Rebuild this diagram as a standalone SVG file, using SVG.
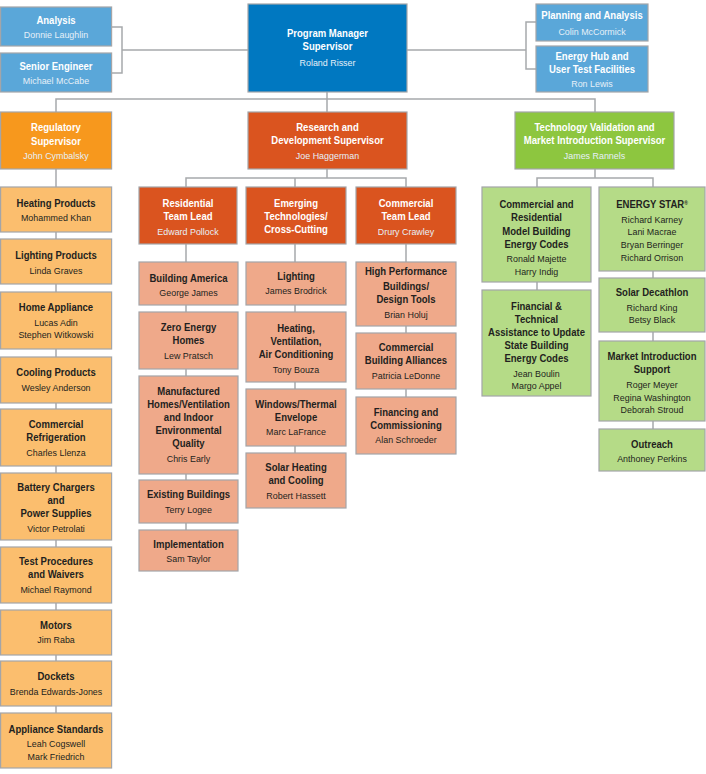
<svg xmlns="http://www.w3.org/2000/svg" width="706" height="774" viewBox="0 0 706 774">
<style>
.b{stroke:#a3a5a8;stroke-width:1.2}
.lb{fill:#5aa7d9}.db{fill:#0078c1}.or{fill:#f7981d}.po{fill:#fbbe6e}.ro{fill:#da541f}.sa{fill:#efa98a}.gr{fill:#8dc63f}.pg{fill:#b5db87}
text{font-family:"Liberation Sans Narrow","Liberation Sans",Arial,sans-serif;text-anchor:middle}
.h{font-weight:bold;font-size:10.6px}
.n{font-size:9.9px}
.w text{fill:#fff}.w .n{fill:#e6f0f8}
.k text{fill:#231f20}
.c{stroke:#a7a9ac;stroke-width:1.5;fill:none}
</style>
<rect width="706" height="774" fill="#fff"/>
<g id="connectors" class="c">
<path d="M112 27H122V73H112M122 50H248"/>
<path d="M536 22H526V69H536M407 50H526"/>
<path d="M327 92V112M56 112V99H595V112"/>
<path d="M56 169V713"/>
<path d="M327 169V178M186 187V178H406V187M295 178V187"/>
<path d="M186 244V530M295 244V453M406 244V397"/>
<path d="M595 169V178M537 187V178H653V187M537 282V290M653 271V429"/>
</g>
<g id="analysis" class="w"><rect class="b lb" x="0.6" y="7" width="111" height="39"/><text transform="matrix(.9 0 0 1 56 0)"><tspan class="h" x="0" y="24">Analysis</tspan><tspan class="n" x="0" y="38.5">Donnie Laughlin</tspan></text></g>
<g id="senior-engineer" class="w"><rect class="b lb" x="0.6" y="53" width="111" height="39"/><text transform="matrix(.9 0 0 1 56 0)"><tspan class="h" x="0" y="70">Senior Engineer</tspan><tspan class="n" x="0" y="84.5">Michael McCabe</tspan></text></g>
<g id="program-manager" class="w"><rect class="b db" x="248" y="4" width="159" height="88"/><text transform="matrix(.9 0 0 1 327.5 0)"><tspan class="h" x="0" y="37">Program Manager</tspan><tspan class="h" x="0" y="50">Supervisor</tspan><tspan class="n" x="0" y="66">Roland Risser</tspan></text></g>
<g id="planning" class="w"><rect class="b lb" x="536" y="4" width="112" height="37"/><text transform="matrix(.9 0 0 1 592 0)"><tspan class="h" x="0" y="19">Planning and Analysis</tspan><tspan class="n" x="0" y="35">Colin McCormick</tspan></text></g>
<g id="energy-hub" class="w"><rect class="b lb" x="536" y="46" width="112" height="46"/><text transform="matrix(.9 0 0 1 592 0)"><tspan class="h" x="0" y="60">Energy Hub and</tspan><tspan class="h" x="0" y="72.7">User Test Facilities</tspan><tspan class="n" x="0" y="87">Ron Lewis</tspan></text></g>
<g id="regulatory" class="w"><rect class="b or" x="0.6" y="112" width="111" height="57"/><text transform="matrix(.9 0 0 1 56 0)"><tspan class="h" x="0" y="131.3">Regulatory</tspan><tspan class="h" x="0" y="144.7">Supervisor</tspan><tspan class="n" x="0" y="159">John Cymbalsky</tspan></text></g>
<g id="research" class="w"><rect class="b ro" x="248" y="112" width="159" height="57"/><text transform="matrix(.9 0 0 1 327.5 0)"><tspan class="h" x="0" y="131">Research and</tspan><tspan class="h" x="0" y="144.5">Development Supervisor</tspan><tspan class="n" x="0" y="159.5">Joe Haggerman</tspan></text></g>
<g id="tech-validation" class="w"><rect class="b gr" x="515" y="112" width="159" height="57"/><text transform="matrix(.9 0 0 1 594.5 0)"><tspan class="h" x="0" y="131">Technology Validation and</tspan><tspan class="h" x="0" y="144.5">Market Introduction Supervisor</tspan><tspan class="n" x="0" y="159">James Rannels</tspan></text></g>

<g id="heating" class="k"><rect class="b po" x="0.6" y="187" width="111" height="45"/><text transform="matrix(.9 0 0 1 56 0)"><tspan class="h" x="0" y="207">Heating Products</tspan><tspan class="n" x="0" y="221.5">Mohammed Khan</tspan></text></g>
<g id="lighting-products" class="k"><rect class="b po" x="0.6" y="239" width="111" height="45"/><text transform="matrix(.9 0 0 1 56 0)"><tspan class="h" x="0" y="259.3">Lighting Products</tspan><tspan class="n" x="0" y="273.7">Linda Graves</tspan></text></g>
<g id="home-appliance" class="k"><rect class="b po" x="0.6" y="292" width="111" height="57"/><text transform="matrix(.9 0 0 1 56 0)"><tspan class="h" x="0" y="311">Home Appliance</tspan><tspan class="n" x="0" y="325.7">Lucas Adin</tspan><tspan class="n" x="0" y="338.3">Stephen Witkowski</tspan></text></g>
<g id="cooling" class="k"><rect class="b po" x="0.6" y="357" width="111" height="46"/><text transform="matrix(.9 0 0 1 56 0)"><tspan class="h" x="0" y="376.3">Cooling Products</tspan><tspan class="n" x="0" y="391">Wesley Anderson</tspan></text></g>
<g id="refrigeration" class="k"><rect class="b po" x="0.6" y="409" width="111" height="57"/><text transform="matrix(.9 0 0 1 56 0)"><tspan class="h" x="0" y="428">Commercial</tspan><tspan class="h" x="0" y="441.3">Refrigeration</tspan><tspan class="n" x="0" y="456">Charles Llenza</tspan></text></g>
<g id="battery" class="k"><rect class="b po" x="0.6" y="473" width="111" height="67"/><text transform="matrix(.9 0 0 1 56 0)"><tspan class="h" x="0" y="490.7">Battery Chargers</tspan><tspan class="h" x="0" y="503.7">and</tspan><tspan class="h" x="0" y="516.7">Power Supplies</tspan><tspan class="n" x="0" y="531.7">Victor Petrolati</tspan></text></g>
<g id="test-procedures" class="k"><rect class="b po" x="0.6" y="547" width="111" height="56"/><text transform="matrix(.9 0 0 1 56 0)"><tspan class="h" x="0" y="565">Test Procedures</tspan><tspan class="h" x="0" y="578">and Waivers</tspan><tspan class="n" x="0" y="592.7">Michael Raymond</tspan></text></g>
<g id="motors" class="k"><rect class="b po" x="0.6" y="610" width="111" height="45"/><text transform="matrix(.9 0 0 1 56 0)"><tspan class="h" x="0" y="628.7">Motors</tspan><tspan class="n" x="0" y="643.3">Jim Raba</tspan></text></g>
<g id="dockets" class="k"><rect class="b po" x="0.6" y="661" width="111" height="45"/><text transform="matrix(.9 0 0 1 56 0)"><tspan class="h" x="0" y="680.3">Dockets</tspan><tspan class="n" x="0" y="695">Brenda Edwards-Jones</tspan></text></g>
<g id="appliance-standards" class="k"><rect class="b po" x="0.6" y="713" width="111" height="55"/><text transform="matrix(.9 0 0 1 56 0)"><tspan class="h" x="0" y="732.7">Appliance Standards</tspan><tspan class="n" x="0" y="747.3">Leah Cogswell</tspan><tspan class="n" x="0" y="759.7">Mark Friedrich</tspan></text></g>

<g id="residential" class="w"><rect class="b ro" x="139" y="187" width="98" height="57"/><text transform="matrix(.9 0 0 1 188 0)"><tspan class="h" x="0" y="207">Residential</tspan><tspan class="h" x="0" y="219.7">Team Lead</tspan><tspan class="n" x="0" y="234.7">Edward Pollock</tspan></text></g>
<g id="building-america" class="k"><rect class="b sa" x="139" y="262" width="99" height="43"/><text transform="matrix(.9 0 0 1 188.5 0)"><tspan class="h" x="0" y="281.7">Building America</tspan><tspan class="n" x="0" y="296">George James</tspan></text></g>
<g id="zero-energy" class="k"><rect class="b sa" x="139" y="312" width="99" height="57"/><text transform="matrix(.9 0 0 1 188.5 0)"><tspan class="h" x="0" y="330.7">Zero Energy</tspan><tspan class="h" x="0" y="344">Homes</tspan><tspan class="n" x="0" y="358.7">Lew Pratsch</tspan></text></g>
<g id="manufactured" class="k"><rect class="b sa" x="139" y="376" width="99" height="98"/><text transform="matrix(.9 0 0 1 188.5 0)"><tspan class="h" x="0" y="395">Manufactured</tspan><tspan class="h" x="0" y="408.3">Homes/Ventilation</tspan><tspan class="h" x="0" y="421.3">and Indoor</tspan><tspan class="h" x="0" y="434.3">Environmental</tspan><tspan class="h" x="0" y="447.3">Quality</tspan><tspan class="n" x="0" y="462.3">Chris Early</tspan></text></g>
<g id="existing-buildings" class="k"><rect class="b sa" x="139" y="480" width="99" height="43"/><text transform="matrix(.9 0 0 1 188.5 0)"><tspan class="h" x="0" y="498">Existing Buildings</tspan><tspan class="n" x="0" y="513">Terry Logee</tspan></text></g>
<g id="implementation" class="k"><rect class="b sa" x="139" y="530" width="99" height="41"/><text transform="matrix(.9 0 0 1 188.5 0)"><tspan class="h" x="0" y="547.7">Implementation</tspan><tspan class="n" x="0" y="562.3">Sam Taylor</tspan></text></g>

<g id="emerging" class="w"><rect class="b ro" x="246" y="187" width="100" height="57"/><text transform="matrix(.9 0 0 1 296 0)"><tspan class="h" x="0" y="207.3">Emerging</tspan><tspan class="h" x="0" y="220">Technologies/</tspan><tspan class="h" x="0" y="233">Cross-Cutting</tspan></text></g>
<g id="lighting" class="k"><rect class="b sa" x="246" y="262" width="100" height="43"/><text transform="matrix(.9 0 0 1 296 0)"><tspan class="h" x="0" y="279.7">Lighting</tspan><tspan class="n" x="0" y="294">James Brodrick</tspan></text></g>
<g id="hvac" class="k"><rect class="b sa" x="246" y="312" width="100" height="70"/><text transform="matrix(.9 0 0 1 296 0)"><tspan class="h" x="0" y="331.7">Heating,</tspan><tspan class="h" x="0" y="344.7">Ventilation,</tspan><tspan class="h" x="0" y="357.7">Air Conditioning</tspan><tspan class="n" x="0" y="372.7">Tony Bouza</tspan></text></g>
<g id="windows" class="k"><rect class="b sa" x="246" y="389" width="100" height="57"/><text transform="matrix(.9 0 0 1 296 0)"><tspan class="h" x="0" y="407.7">Windows/Thermal</tspan><tspan class="h" x="0" y="421">Envelope</tspan><tspan class="n" x="0" y="435.3">Marc LaFrance</tspan></text></g>
<g id="solar-heating" class="k"><rect class="b sa" x="246" y="453" width="100" height="55"/><text transform="matrix(.9 0 0 1 296 0)"><tspan class="h" x="0" y="471">Solar Heating</tspan><tspan class="h" x="0" y="484.3">and Cooling</tspan><tspan class="n" x="0" y="499">Robert Hassett</tspan></text></g>

<g id="commercial" class="w"><rect class="b ro" x="356" y="187" width="100" height="57"/><text transform="matrix(.9 0 0 1 406 0)"><tspan class="h" x="0" y="207">Commercial</tspan><tspan class="h" x="0" y="220">Team Lead</tspan><tspan class="n" x="0" y="234.7">Drury Crawley</tspan></text></g>
<g id="high-performance" class="k"><rect class="b sa" x="356" y="262" width="100" height="64"/><text transform="matrix(.9 0 0 1 406 0)"><tspan class="h" x="0" y="275">High Performance</tspan><tspan class="h" x="0" y="290">Buildings/</tspan><tspan class="h" x="0" y="303.3">Design Tools</tspan><tspan class="n" x="0" y="317.7">Brian Holuj</tspan></text></g>
<g id="alliances" class="k"><rect class="b sa" x="356" y="333" width="100" height="56"/><text transform="matrix(.9 0 0 1 406 0)"><tspan class="h" x="0" y="351">Commercial</tspan><tspan class="h" x="0" y="364.3">Building Alliances</tspan><tspan class="n" x="0" y="378.7">Patricia LeDonne</tspan></text></g>
<g id="financing" class="k"><rect class="b sa" x="356" y="397" width="100" height="57"/><text transform="matrix(.9 0 0 1 406 0)"><tspan class="h" x="0" y="415.7">Financing and</tspan><tspan class="h" x="0" y="429">Commissioning</tspan><tspan class="n" x="0" y="443.3">Alan Schroeder</tspan></text></g>

<g id="codes" class="k"><rect class="b pg" x="482" y="187" width="109" height="95"/><text transform="matrix(.9 0 0 1 536.5 0)"><tspan class="h" x="0" y="208">Commercial and</tspan><tspan class="h" x="0" y="221.3">Residential</tspan><tspan class="h" x="0" y="234.7">Model Building</tspan><tspan class="h" x="0" y="247.7">Energy Codes</tspan><tspan class="n" x="0" y="262.3">Ronald Majette</tspan><tspan class="n" x="0" y="274.7">Harry Indig</tspan></text></g>
<g id="financial-assistance" class="k"><rect class="b pg" x="482" y="290" width="109" height="106"/><text transform="matrix(.9 0 0 1 536.5 0)"><tspan class="h" x="0" y="309.7">Financial &amp;</tspan><tspan class="h" x="0" y="323">Technical</tspan><tspan class="h" x="0" y="336">Assistance to Update</tspan><tspan class="h" x="0" y="349">State Building</tspan><tspan class="h" x="0" y="362">Energy Codes</tspan><tspan class="n" x="0" y="376.7">Jean Boulin</tspan><tspan class="n" x="0" y="389.3">Margo Appel</tspan></text></g>

<g id="energy-star" class="k"><rect class="b pg" x="599" y="187" width="106" height="84"/><text transform="matrix(.9 0 0 1 652 0)"><tspan class="h" x="0" y="208">ENERGY STAR<tspan font-size="5.5px" dy="-3">®</tspan></tspan><tspan class="n" x="0" y="223">Richard Karney</tspan><tspan class="n" x="0" y="235.3">Lani Macrae</tspan><tspan class="n" x="0" y="248">Bryan Berringer</tspan><tspan class="n" x="0" y="260.7">Richard Orrison</tspan></text></g>
<g id="solar-decathlon" class="k"><rect class="b pg" x="599" y="278" width="106" height="54"/><text transform="matrix(.9 0 0 1 652 0)"><tspan class="h" x="0" y="295.7">Solar Decathlon</tspan><tspan class="n" x="0" y="310.7">Richard King</tspan><tspan class="n" x="0" y="323.3">Betsy Black</tspan></text></g>
<g id="market-introduction" class="k"><rect class="b pg" x="599" y="341" width="106" height="80"/><text transform="matrix(.9 0 0 1 652 0)"><tspan class="h" x="0" y="360">Market Introduction</tspan><tspan class="h" x="0" y="373.3">Support</tspan><tspan class="n" x="0" y="388">Roger Meyer</tspan><tspan class="n" x="0" y="400.7">Regina Washington</tspan><tspan class="n" x="0" y="413.3">Deborah Stroud</tspan></text></g>
<g id="outreach" class="k"><rect class="b pg" x="599" y="429" width="106" height="42"/><text transform="matrix(.9 0 0 1 652 0)"><tspan class="h" x="0" y="447.7">Outreach</tspan><tspan class="n" x="0" y="462.3">Anthoney Perkins</tspan></text></g>
</svg>
